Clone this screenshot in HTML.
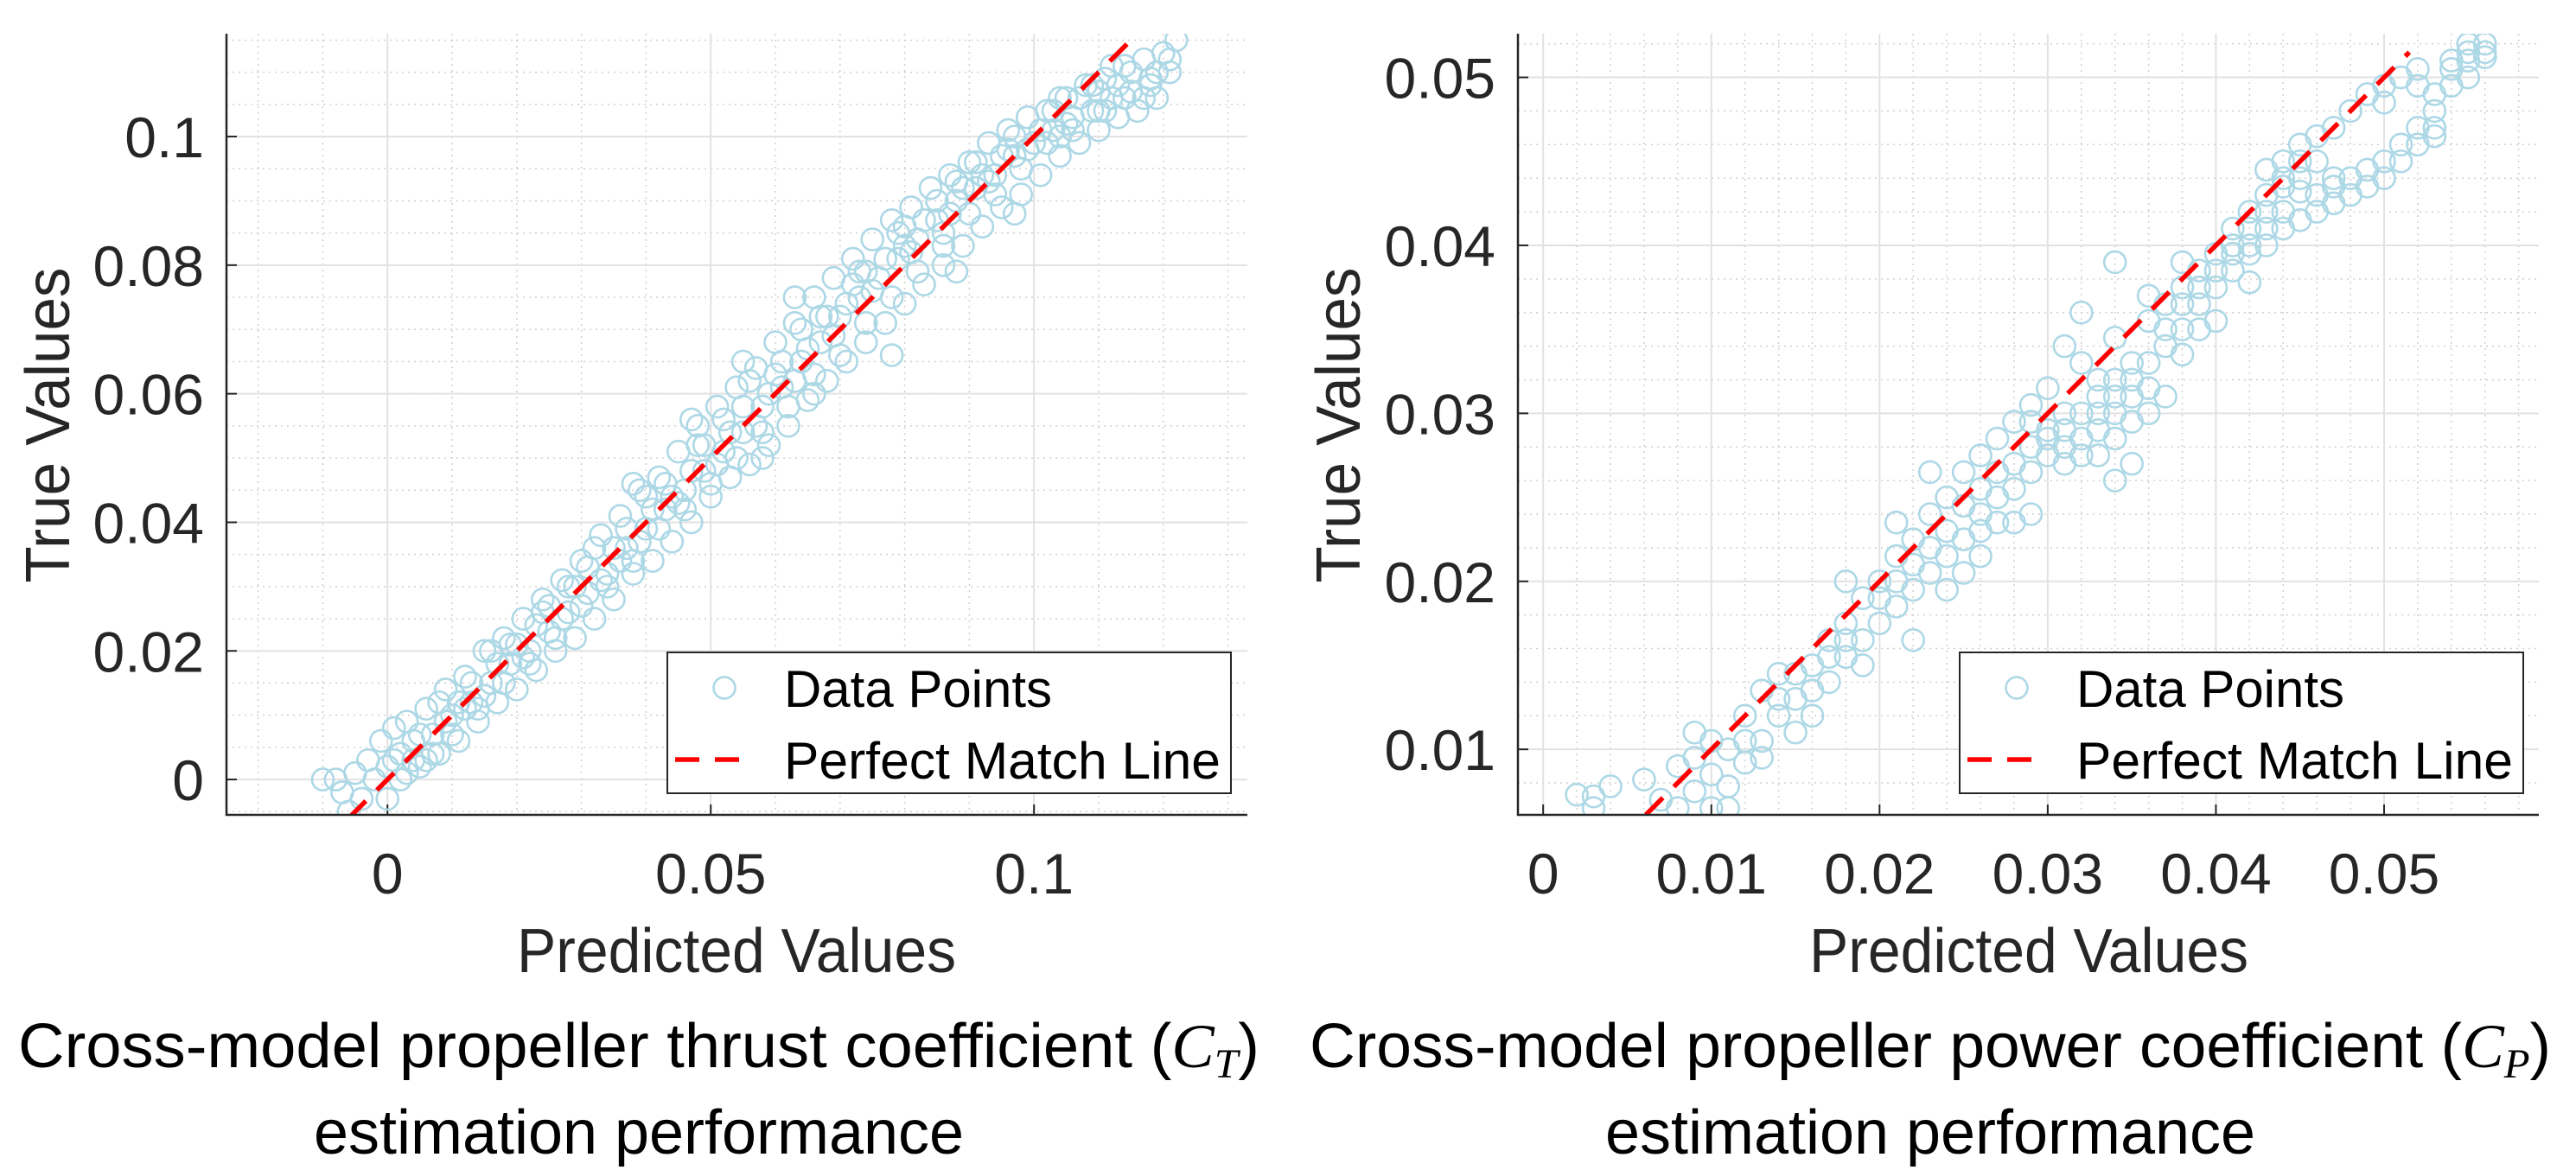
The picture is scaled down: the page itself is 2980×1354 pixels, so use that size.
<!DOCTYPE html>
<html><head><meta charset="utf-8"><style>
html,body{margin:0;padding:0;background:#fff;}
svg{display:block;}
text{font-family:"Liberation Sans",sans-serif;}
</style></head><body>
<svg id="fig" width="2980" height="1354" viewBox="0 0 2980 1354" xmlns="http://www.w3.org/2000/svg">
<defs>
<clipPath id="clipL"><rect x="262" y="39" width="1181" height="904"/></clipPath>
<clipPath id="clipR"><rect x="1756" y="39" width="1181" height="904"/></clipPath>
</defs>
<g id="plotL"></g>
<g id="plotR"></g>
<text x="739" y="1235" font-size="72" text-anchor="middle" textLength="1436" lengthAdjust="spacingAndGlyphs">Cross-model propeller thrust coefficient (<tspan font-family="Liberation Serif" font-style="italic">C</tspan><tspan font-family="Liberation Serif" font-style="italic" font-size="48" dy="12">T</tspan><tspan dy="-12">)</tspan></text>
<text x="739" y="1335" font-size="72" text-anchor="middle" textLength="752" lengthAdjust="spacingAndGlyphs">estimation performance</text>
<text x="2233" y="1235" font-size="72" text-anchor="middle" textLength="1436" lengthAdjust="spacingAndGlyphs">Cross-model propeller power coefficient (<tspan font-family="Liberation Serif" font-style="italic">C</tspan><tspan font-family="Liberation Serif" font-style="italic" font-size="48" dy="12">P</tspan><tspan dy="-12">)</tspan></text>
<text x="2233" y="1335" font-size="72" text-anchor="middle" textLength="752" lengthAdjust="spacingAndGlyphs">estimation performance</text>
</svg>
<script>
const xTicksCT = [0, 0.05, 0.1];
const xTickLabelsCT = ["0", "0.05", "0.1"];
const yTicksCT = [0, 0.02, 0.04, 0.06, 0.08, 0.1];
const yTickLabelsCT = ["0", "0.02", "0.04", "0.06", "0.08", "0.1"];
const pointsCT = [[-0.010,0.000],[-0.008,0.000],[-0.007,-0.002],[-0.006,-0.005],[-0.005,0.001],[-0.004,-0.003],[-0.003,0.003],[-0.002,0.000],[-0.001,0.006],[0.000,0.002],[0.000,-0.003],[0.001,0.008],[0.002,0.004],[0.002,0.000],[0.003,0.009],[0.004,0.006],[0.005,0.002],[0.006,0.011],[0.007,0.007],[0.008,0.004],[0.009,0.014],[0.010,0.010],[0.011,0.006],[0.012,0.016],[0.013,0.012],[0.014,0.009],[0.015,0.020],[0.016,0.015],[0.017,0.012],[0.018,0.022],[0.019,0.018],[0.020,0.014],[0.021,0.025],[0.022,0.020],[0.023,0.017],[0.024,0.028],[0.025,0.023],[0.026,0.020],[0.027,0.031],[0.028,0.026],[0.029,0.022],[0.030,0.034],[0.031,0.029],[0.032,0.025],[0.033,0.038],[0.034,0.032],[0.035,0.028],[0.036,0.041],[0.037,0.036],[0.038,0.032],[0.039,0.045],[0.040,0.039],[0.041,0.034],[0.042,0.047],[0.043,0.042],[0.044,0.037],[0.045,0.051],[0.046,0.045],[0.047,0.040],[0.048,0.055],[0.049,0.048],[0.050,0.044],[0.051,0.058],[0.052,0.051],[0.053,0.047],[0.054,0.061],[0.055,0.054],[0.056,0.049],[0.057,0.064],[0.058,0.058],[0.059,0.052],[0.060,0.068],[0.061,0.061],[0.062,0.055],[0.063,0.071],[0.064,0.065],[0.065,0.059],[0.066,0.075],[0.067,0.068],[0.068,0.062],[0.069,0.078],[0.070,0.072],[0.071,0.065],[0.072,0.081],[0.073,0.075],[0.074,0.068],[0.075,0.084],[0.076,0.078],[0.077,0.071],[0.078,0.087],[0.079,0.081],[0.080,0.074],[0.081,0.089],[0.082,0.084],[0.083,0.077],[0.084,0.092],[0.085,0.087],[0.086,0.080],[0.087,0.094],[0.088,0.090],[0.089,0.083],[0.090,0.096],[0.091,0.092],[0.092,0.086],[0.093,0.099],[0.094,0.094],[0.095,0.089],[0.096,0.101],[0.097,0.097],[0.098,0.091],[0.099,0.103],[0.100,0.099],[0.101,0.094],[0.102,0.104],[0.103,0.101],[0.104,0.097],[0.105,0.106],[0.106,0.103],[0.107,0.099],[0.108,0.108],[0.109,0.104],[0.110,0.101],[0.111,0.109],[0.112,0.106],[0.113,0.103],[0.114,0.111],[0.115,0.107],[0.116,0.104],[0.117,0.112],[0.118,0.109],[0.119,0.106],[0.120,0.113],[0.121,0.110],[0.122,0.115],[0.052,0.056],[0.060,0.063],[0.068,0.072],[0.074,0.079],[0.080,0.083],[0.086,0.085],[0.092,0.094],[0.036,0.034],[0.044,0.044],[0.028,0.030],[0.020,0.021],[0.012,0.011],[0.004,0.003],[0.058,0.050],[0.066,0.060],[0.097,0.088],[0.104,0.100],[0.110,0.107],[0.088,0.079],[0.078,0.066],[0.063,0.075],[0.055,0.065],[0.047,0.056],[0.038,0.046],
[0.001,0.003],[0.003,0.001],[0.005,0.007],[0.007,0.004],[0.009,0.009],[0.011,0.012],[0.013,0.015],[0.015,0.013],[0.017,0.018],[0.019,0.021],[0.021,0.019],[0.023,0.024],[0.025,0.027],[0.027,0.025],[0.029,0.030],[0.031,0.033],[0.033,0.031],[0.035,0.036],[0.037,0.039],[0.039,0.037],[0.041,0.042],[0.043,0.046],[0.045,0.043],[0.047,0.048],[0.049,0.052],[0.051,0.049],[0.053,0.054],[0.055,0.058],[0.057,0.055],[0.059,0.060],[0.061,0.065],[0.063,0.062],[0.065,0.067],[0.067,0.072],[0.069,0.069],[0.071,0.074],[0.073,0.079],[0.075,0.076],[0.077,0.081],[0.079,0.085],[0.081,0.082],[0.083,0.087],[0.085,0.090],[0.087,0.088],[0.089,0.092],[0.091,0.096],[0.093,0.093],[0.095,0.097],[0.097,0.100],[0.099,0.098],[0.101,0.101],[0.103,0.104],[0.105,0.102],[0.107,0.106],[0.109,0.108],[0.111,0.104],[0.113,0.108],[0.115,0.110],[0.117,0.106],[0.119,0.110],[0.121,0.112],
[0.006,0.003],[0.010,0.007],[0.014,0.011],[0.018,0.015],[0.022,0.018],[0.026,0.022],[0.030,0.027],[0.034,0.030],[0.038,0.034],[0.042,0.039],[0.046,0.042],[0.050,0.046],[0.054,0.050],[0.058,0.054],[0.062,0.058],[0.066,0.063],[0.070,0.066],[0.074,0.071],[0.078,0.075],[0.082,0.079],[0.086,0.083],[0.090,0.088],[0.094,0.091],[0.098,0.095],[0.102,0.099],[0.106,0.101],[0.110,0.104],[0.114,0.106],[0.118,0.108],
[0.008,0.012],[0.016,0.020],[0.024,0.026],[0.032,0.036],[0.040,0.044],[0.048,0.052],[0.056,0.062],[0.064,0.070],[0.072,0.077],[0.080,0.086],[0.088,0.093],[0.096,0.098],[0.104,0.106],[0.112,0.111]];
const lineCT = [-0.006, 0.116];

const xTicksCP = [0, 0.01, 0.02, 0.03, 0.04, 0.05];
const xTickLabelsCP = ["0", "0.01", "0.02", "0.03", "0.04", "0.05"];
const yTicksCP = [0.01, 0.02, 0.03, 0.04, 0.05];
const yTickLabelsCP = ["0.01", "0.02", "0.03", "0.04", "0.05"];
const pointsCP = [[0.002,0.0073],[0.003,0.0072],[0.003,0.0065],[0.004,0.0078],[0.006,0.0082],[0.007,0.0070],[0.008,0.0065],[0.008,0.0090],[0.009,0.0075],[0.009,0.0110],[0.010,0.0085],[0.010,0.0065],[0.011,0.0100],[0.011,0.0078],[0.012,0.0120],[0.012,0.0092],[0.013,0.0135],[0.013,0.0105],[0.014,0.0120],[0.014,0.0145],[0.015,0.0130],[0.015,0.0110],[0.016,0.0150],[0.016,0.0135],[0.017,0.0165],[0.017,0.0140],[0.018,0.0175],[0.018,0.0155],[0.019,0.0190],[0.019,0.0165],[0.020,0.0200],[0.020,0.0175],[0.021,0.0215],[0.021,0.0185],[0.022,0.0225],[0.022,0.0195],[0.023,0.0240],[0.023,0.0205],[0.024,0.0250],[0.024,0.0215],[0.025,0.0265],[0.025,0.0225],[0.026,0.0275],[0.026,0.0240],[0.027,0.0285],[0.027,0.0250],[0.028,0.0295],[0.028,0.0255],[0.029,0.0305],[0.029,0.0265],[0.030,0.0315],[0.030,0.0275],[0.031,0.0290],[0.031,0.0270],[0.032,0.0330],[0.032,0.0285],[0.033,0.0300],[0.033,0.0275],[0.034,0.0345],[0.034,0.0310],[0.034,0.0260],[0.035,0.0320],[0.035,0.0295],[0.036,0.0355],[0.036,0.0330],[0.037,0.0365],[0.037,0.0340],[0.038,0.0375],[0.038,0.0350],[0.039,0.0385],[0.039,0.0365],[0.040,0.0395],[0.040,0.0375],[0.041,0.0400],[0.041,0.0385],[0.042,0.0410],[0.042,0.0395],[0.043,0.0420],[0.043,0.0400],[0.044,0.0435],[0.044,0.0410],[0.045,0.0450],[0.045,0.0415],[0.046,0.0420],[0.046,0.0465],[0.047,0.0425],[0.048,0.0430],[0.048,0.0480],[0.049,0.0435],[0.050,0.0440],[0.050,0.0495],[0.051,0.0450],[0.052,0.0460],[0.052,0.0505],[0.053,0.0470],[0.053,0.0480],[0.054,0.0510],[0.055,0.0515],[0.055,0.0500],[0.056,0.0520],[0.056,0.0512],[0.054,0.0495],[0.047,0.0470],[0.049,0.0490],[0.051,0.0500],[0.037,0.0310],[0.038,0.0335],[0.035,0.0270],[0.033,0.0320],[0.030,0.0290],[0.029,0.0240],[0.024,0.0195],[0.026,0.0215],[0.028,0.0235],[0.022,0.0165],[0.019,0.0150],[0.032,0.0360],[0.031,0.0340],[0.034,0.0390],[0.044,0.0450],[0.043,0.0445],[0.045,0.0432],[0.042,0.0378],[0.040,0.0355],[0.016,0.0120],[0.013,0.0095],[0.011,0.0065],[0.023,0.0265],[0.021,0.0235],[0.018,0.0200],
[0.009,0.0095],[0.010,0.0105],[0.012,0.0105],[0.014,0.0130],[0.015,0.0145],[0.017,0.0155],[0.018,0.0165],[0.020,0.0190],[0.021,0.0200],[0.022,0.0210],[0.023,0.0220],[0.024,0.0230],[0.025,0.0245],[0.026,0.0255],[0.027,0.0265],[0.028,0.0270],[0.029,0.0280],[0.030,0.0285],[0.031,0.0300],[0.031,0.0280],[0.032,0.0300],[0.032,0.0275],[0.033,0.0290],[0.033,0.0310],[0.034,0.0300],[0.034,0.0320],[0.034,0.0285],[0.035,0.0310],[0.035,0.0330],[0.036,0.0315],[0.036,0.0300],[0.037,0.0350],[0.038,0.0365],[0.039,0.0375],[0.040,0.0385],[0.041,0.0395],[0.041,0.0410],[0.042,0.0400],[0.042,0.0420],[0.043,0.0410],[0.043,0.0430],[0.044,0.0420],[0.044,0.0440],[0.045,0.0440],[0.046,0.0430],[0.047,0.0435],[0.047,0.0440],[0.048,0.0440],[0.049,0.0445],[0.050,0.0450],[0.051,0.0460],[0.052,0.0470],[0.053,0.0465],[0.053,0.0490],[0.054,0.0505],[0.055,0.0510],[0.055,0.0520],[0.056,0.0515],[0.052,0.0495],[0.050,0.0485],[0.029,0.0295],[0.027,0.0235],[0.025,0.0205],[0.026,0.0230],[0.038,0.0390],[0.036,0.0370],[0.039,0.0350],[0.046,0.0450],[0.045,0.0460]];
const lineCP = [0.0061, 0.0515];

const NS = "http://www.w3.org/2000/svg";
function mk(tag, attrs, parent) {
  const e = document.createElementNS(NS, tag);
  for (const k in attrs) e.setAttribute(k, attrs[k]);
  parent.appendChild(e);
  return e;
}

function drawPlot(g, cfg) {
  const L = cfg.left, R = cfg.left + 1181, T = 39, B = 943;
  const sx = v => L + (v - cfg.xmin) / (cfg.xmax - cfg.xmin) * (R - L);
  const sy = v => B - (v - cfg.ymin) / (cfg.ymax - cfg.ymin) * (B - T);
  for (let v = Math.ceil(cfg.xmin / cfg.xminor) * cfg.xminor; v <= cfg.xmax + 1e-9; v += cfg.xminor) {
    const l = mk("line", {x1: sx(v), x2: sx(v), y1: T, y2: B, stroke: "#d0d0d0", "stroke-width": 1.5, "stroke-dasharray": "2 5"}, g);
    
    
  }
  for (let v = Math.ceil(cfg.ymin / cfg.yminor) * cfg.yminor; v <= cfg.ymax + 1e-9; v += cfg.yminor) {
    const l = mk("line", {x1: L, x2: R, y1: sy(v), y2: sy(v), stroke: "#d0d0d0", "stroke-width": 1.5, "stroke-dasharray": "2 5"}, g);
    
    
  }
  cfg.xticks.forEach((v, i) => {
    const l = mk("line", {x1: sx(v), x2: sx(v), y1: T, y2: B, stroke: "#e2e2e2", "stroke-width": 2}, g);
    
    
    const tk = mk("line", {x1: sx(v), x2: sx(v), y1: B, y2: B - 12, stroke: "#262626", "stroke-width": 2}, g);
    
    
    const t = mk("text", {x: sx(v), y: 1034, "font-size": 66, "text-anchor": "middle", fill: "#262626"}, g);
    t.textContent = cfg.xlabels[i];
    
    
  });
  cfg.yticks.forEach((v, i) => {
    const l = mk("line", {x1: L, x2: R, y1: sy(v), y2: sy(v), stroke: "#e2e2e2", "stroke-width": 2}, g);
    
    
    const tk = mk("line", {x1: L, x2: L + 12, y1: sy(v), y2: sy(v), stroke: "#262626", "stroke-width": 2}, g);
    
    
    const t = mk("text", {x: L - 26, y: sy(v) + 24, "font-size": 66, "text-anchor": "end", fill: "#262626"}, g);
    t.textContent = cfg.ylabels[i];
    
    
  });
  const pg = mk("g", {"clip-path": cfg.clip}, g);
  
  
  cfg.points.forEach(p => {
    const c = mk("circle", {cx: sx(p[0]), cy: sy(p[1]), r: 12.5, fill: "none", stroke: "#add8e6", "stroke-width": 2.6}, pg);
    
    
  });
  const ml = mk("line", {x1: sx(cfg.line[0]), y1: sy(cfg.line[0]), x2: sx(cfg.line[1]), y2: sy(cfg.line[1]), stroke: "#ff0000", "stroke-width": 5.5, "stroke-dasharray": "28 18", "clip-path": cfg.clip}, g);
  
  
  const ax = mk("path", {d: `M${L} ${T} L${L} ${B} L${R} ${B}`, fill: "none", stroke: "#262626", "stroke-width": 2.5}, g);
  
  
  const xl = mk("text", {x: cfg.xlabelX, y: 1125, "font-size": 72, "text-anchor": "middle", fill: "#262626", textLength: 508, lengthAdjust: "spacingAndGlyphs"}, g);
  xl.textContent = "Predicted Values";
  
  
  const yl = mk("text", {x: 0, y: 0, "font-size": 72, "text-anchor": "middle", fill: "#262626", textLength: 365, lengthAdjust: "spacingAndGlyphs", transform: `translate(${cfg.ylabelX},492) rotate(-90)`}, g);
  yl.textContent = "True Values";
  
  
  const lx = cfg.legendX;
  const lg = mk("g", {}, g);
  
  
  mk("rect", {x: lx, y: 755, width: 652, height: 163, fill: "#fff", stroke: "#262626", "stroke-width": 2}, lg);
  const lc = mk("circle", {cx: lx + 66, cy: 796, r: 12.5, fill: "none", stroke: "#add8e6", "stroke-width": 2.6}, lg);
  
  
  const t1 = mk("text", {x: lx + 135, y: 818, "font-size": 60, fill: "#000", textLength: 310, lengthAdjust: "spacingAndGlyphs"}, lg);
  t1.textContent = "Data Points";
  
  
  const dl = mk("line", {x1: lx + 9, x2: lx + 99, y1: 879, y2: 879, stroke: "#ff0000", "stroke-width": 5.5, "stroke-dasharray": "28 18"}, lg);
  
  
  const t2 = mk("text", {x: lx + 135, y: 901, "font-size": 60, fill: "#000", textLength: 505, lengthAdjust: "spacingAndGlyphs"}, lg);
  t2.textContent = "Perfect Match Line";
  
  
}

drawPlot(document.getElementById("plotL"), {
  left: 262, xmin: -0.0249, xmax: 0.133, ymin: -0.0055, ymax: 0.116,
  xminor: 0.01, yminor: 0.005, xticks: xTicksCT, xlabels: xTickLabelsCT,
  yticks: yTicksCT, ylabels: yTickLabelsCT, points: pointsCT, line: lineCT,
  clip: "url(#clipL)", xlabelX: 852, ylabelX: 80, legendX: 772
});
drawPlot(document.getElementById("plotR"), {
  left: 1756, xmin: -0.0015, xmax: 0.0592, ymin: 0.0061, ymax: 0.0526,
  xminor: 0.002, yminor: 0.002, xticks: xTicksCP, xlabels: xTickLabelsCP,
  yticks: yTicksCP, ylabels: yTickLabelsCP, points: pointsCP, line: lineCP,
  clip: "url(#clipR)", xlabelX: 2347, ylabelX: 1573, legendX: 2267
});
</script>
</body></html>
